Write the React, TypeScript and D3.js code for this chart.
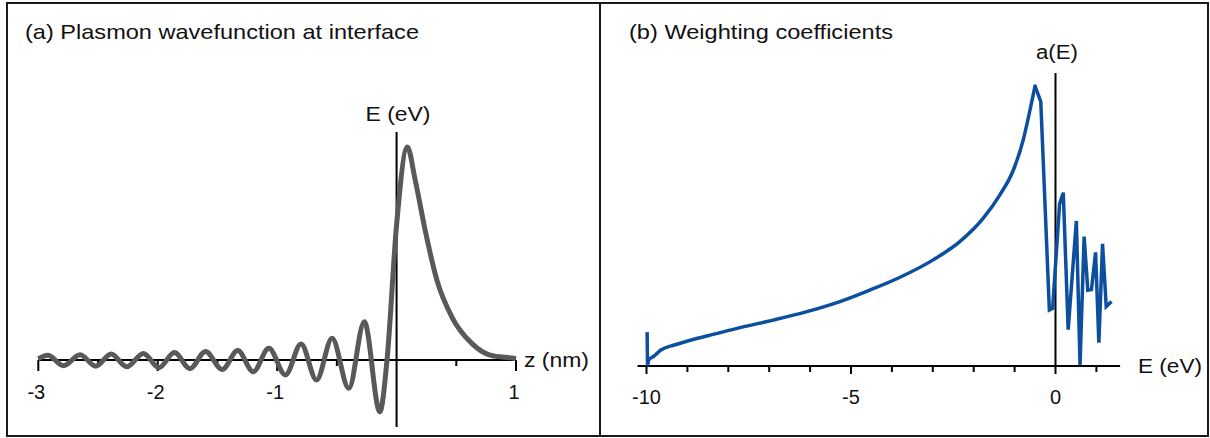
import React, { useRef, useEffect } from "react";
import * as d3 from "d3";

// (a) plasmon wavefunction, z in nm, amplitude relative to the main peak
const waveZ = [
  -3.0, -2.92, -2.79, -2.65, -2.52, -2.39, -2.26, -2.12, -1.99, -1.86, -1.73,
  -1.6, -1.46, -1.33, -1.2, -1.07, -0.93, -0.8, -0.67, -0.54, -0.4, -0.27,
  -0.14, -0.08, 0.0, 0.09, 0.156, 0.239, 0.337, 0.462, 0.63, 0.783, 0.979, 1.0,
];
const waveAmp = [
  0.005, 0.022, -0.027, 0.025, -0.029, 0.028, -0.032, 0.031, -0.036, 0.035,
  -0.041, 0.04, -0.045, 0.045, -0.055, 0.055, -0.07, 0.075, -0.094, 0.102,
  -0.133, 0.18, -0.243, 0.0, 0.634, 1.0, 0.845, 0.61, 0.376, 0.203, 0.078,
  0.023, 0.008, 0.006,
];

// (b) weighting coefficients a(E), E in eV
const coefE = [
  -9.985, -9.975, -9.95, -9.89, -9.82, -9.65, -9.32, -8.91, -8.5, -7.69, -6.9,
  -6.08, -5.27, -4.54, -3.8, -2.99, -2.34, -1.77, -1.36, -1.03, -0.79, -0.65,
  -0.5, -0.36, -0.15, -0.07, 0.1, 0.19, 0.31, 0.51, 0.6, 0.7, 0.79, 0.88, 0.98,
  1.06, 1.15, 1.24, 1.37,
];
const coefA = [
  0.121, 0.0, 0.022, 0.029, 0.035, 0.057, 0.075, 0.093, 0.108, 0.138, 0.164,
  0.194, 0.23, 0.271, 0.317, 0.379, 0.444, 0.527, 0.611, 0.7, 0.807, 0.896,
  1.0, 0.944, 0.2, 0.206, 0.579, 0.619, 0.13, 0.518, 0.004, 0.462, 0.271,
  0.273, 0.406, 0.083, 0.436, 0.212, 0.23,
];
// index of the a(E) maximum: smooth before it, jagged after
const peakIdx = 22;

const majorA = [-3, -2, -1, 1];
const minorA = [-2.5, -1.5, -0.5, 0.5];
const majorB = [-10, -5, 0];
const minorB = [-9, -8, -7, -6, -4, -3, -2, -1, 1];

const font = "'Liberation Sans', Arial, sans-serif";

const App = () => {
  const ref = useRef(null);

  useEffect(() => {
    const svg = d3.select(ref.current);
    svg.selectAll("*").remove();

    // panel frames
    svg.append("rect").attr("x", 7).attr("y", 3).attr("width", 593).attr("height", 433)
      .attr("fill", "none").attr("stroke", "#1a1a1a").attr("stroke-width", 2);
    svg.append("rect").attr("x", 600).attr("y", 3).attr("width", 608).attr("height", 433)
      .attr("fill", "none").attr("stroke", "#1a1a1a").attr("stroke-width", 2);

    const label = (g, txt, x, y, opts = {}) => {
      const t = g.append("text").attr("x", x).attr("y", y).text(txt)
        .attr("font-family", font).attr("font-size", opts.size || 20)
        .attr("fill", "#111").attr("text-anchor", opts.anchor || "start");
      if (opts.len) t.attr("textLength", opts.len).attr("lengthAdjust", "spacingAndGlyphs");
      return t;
    };

    // ---- panel (a)
    const xa = d3.scaleLinear().domain([-3, 1]).range([38.3, 516]);
    const ya = d3.scaleLinear().domain([0, 1]).range([360, 147]);
    const ga = svg.append("g");

    label(ga, "(a) Plasmon wavefunction at interface", 25, 39, { size: 21, len: 394 });

    ga.append("line").attr("x1", xa(-3)).attr("x2", xa(1)).attr("y1", ya(0)).attr("y2", ya(0))
      .attr("stroke", "#000").attr("stroke-width", 2);
    ga.append("line").attr("x1", xa(0)).attr("x2", xa(0)).attr("y1", ya(1.07)).attr("y2", ya(-0.315))
      .attr("stroke", "#000").attr("stroke-width", 2);
    ga.selectAll("line.major").data(majorA).join("line").attr("class", "major")
      .attr("x1", d => xa(d)).attr("x2", d => xa(d)).attr("y1", ya(0)).attr("y2", ya(0) + 11)
      .attr("stroke", "#000").attr("stroke-width", 2);
    ga.selectAll("line.minor").data(minorA).join("line").attr("class", "minor")
      .attr("x1", d => xa(d)).attr("x2", d => xa(d)).attr("y1", ya(0)).attr("y2", ya(0) + 6)
      .attr("stroke", "#000").attr("stroke-width", 2);
    majorA.forEach(d => label(ga, String(d), xa(d) - 2, 398.5, { anchor: "middle" }));

    label(ga, "E (eV)", 365.5, 121, { len: 65 });
    label(ga, "z (nm)", 524, 367, { len: 65 });

    const waveLine = d3.line()
      .x((d, i) => xa(waveZ[i]))
      .y(d => ya(d))
      .curve(d3.curveMonotoneX);
    ga.append("path").attr("d", waveLine(waveAmp)).attr("fill", "none")
      .attr("stroke", "#595959").attr("stroke-width", 5).attr("stroke-linejoin", "round");

    // ---- panel (b)
    const xb = d3.scaleLinear().domain([-10, 0]).range([646.5, 1055.5]);
    const yb = d3.scaleLinear().domain([0, 1]).range([366, 86]);
    const gb = svg.append("g");

    label(gb, "(b) Weighting coefficients", 629, 39, { size: 21, len: 264 });

    gb.append("line").attr("x1", xb(-10.22)).attr("x2", xb(1.58)).attr("y1", yb(0)).attr("y2", yb(0))
      .attr("stroke", "#000").attr("stroke-width", 2);
    gb.append("line").attr("x1", xb(0)).attr("x2", xb(0)).attr("y1", yb(1.046)).attr("y2", yb(0))
      .attr("stroke", "#000").attr("stroke-width", 2);
    gb.selectAll("line.major").data(majorB).join("line").attr("class", "major")
      .attr("x1", d => xb(d)).attr("x2", d => xb(d)).attr("y1", yb(0)).attr("y2", yb(0) + 8)
      .attr("stroke", "#000").attr("stroke-width", 2);
    gb.selectAll("line.minor").data(minorB).join("line").attr("class", "minor")
      .attr("x1", d => xb(d)).attr("x2", d => xb(d)).attr("y1", yb(0)).attr("y2", yb(0) + 6)
      .attr("stroke", "#000").attr("stroke-width", 2);
    majorB.forEach(d => label(gb, String(d), xb(d), 404, { anchor: "middle" }));

    label(gb, "a(E)", 1036, 59, { len: 42 });
    label(gb, "E (eV)", 1138, 373, { len: 64 });

    const pts = coefA.map((a, i) => [xb(coefE[i]), yb(a)]);
    const smooth = d3.line().curve(d3.curveMonotoneX);
    const jagged = d3.line();
    const blue = "#0b4f9e";
    // spike at -10 eV and the noisy zigzag above 0 are straight segments
    gb.append("path").attr("d", jagged(pts.slice(0, 3))).attr("fill", "none")
      .attr("stroke", blue).attr("stroke-width", 3.5);
    gb.append("path").attr("d", smooth(pts.slice(2, peakIdx + 1))).attr("fill", "none")
      .attr("stroke", blue).attr("stroke-width", 3.5).attr("stroke-linecap", "round");
    gb.append("path").attr("d", jagged(pts.slice(peakIdx))).attr("fill", "none")
      .attr("stroke", blue).attr("stroke-width", 3.5).attr("stroke-linejoin", "miter");
  }, []);

  return (
    <div style={{ position: "fixed", left: 0, top: 0 }}>
      <svg ref={ref} width={1210} height={438} style={{ display: "block", background: "#fff" }} />
    </div>
  );
};

export default App;
